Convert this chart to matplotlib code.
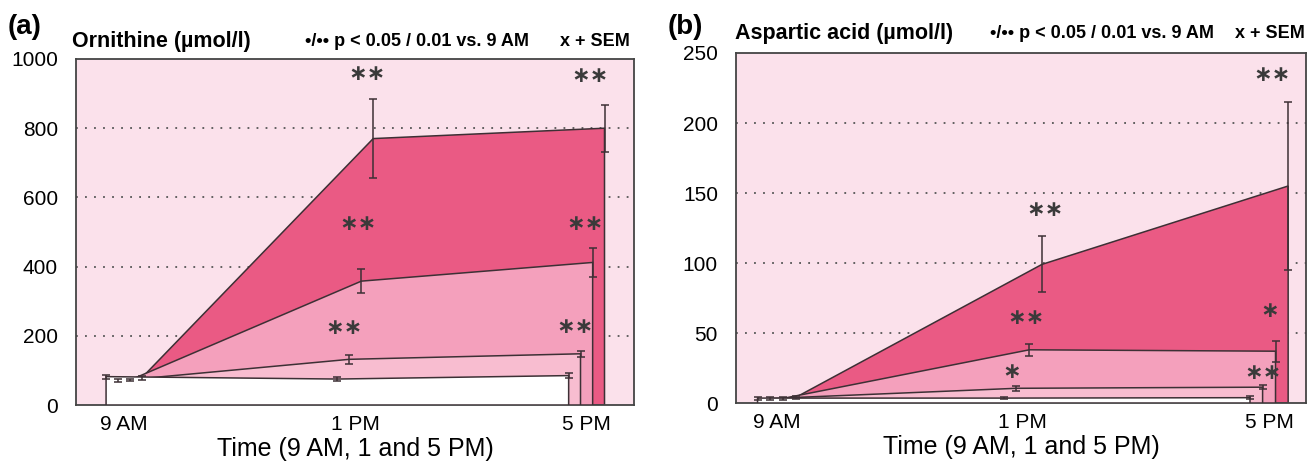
import numpy as np
import matplotlib.pyplot as plt

plt.rcParams['font.family'] = ['Liberation Sans', 'DejaVu Sans']

# time points (hours after 9 AM) and labels
hours = np.array([0, 4, 8])
time_labels = ['9 AM', '1 PM', '5 PM']
# small horizontal shift of each of the four groups
group_shift = [-0.31, -0.105, 0.105, 0.31]

# (a) Ornithine, umol/l, groups 1..4 (mean, SEM)
orn_g1 = [82, 75, 85]
orn_g2 = [70, 132, 148]
orn_g3 = [72, 358, 412]
orn_g4 = [79, 770, 800]
orn_g1_sem = [6, 5, 7]
orn_g2_sem = [4, 13, 9]
orn_g3_sem = [4, 35, 43]
orn_g4_sem = [6, 115, 68]
orn_star_x = [4.21, 4.04, 3.80, 8.06, 7.97, 7.80]
orn_star_y = [957, 522, 223, 951, 524, 226]
orn_star_txt = ['**', '**', '**', '**', '**', '**']

# (b) Aspartic acid, umol/l
asp_g1 = [3.5, 3.5, 3.8]
asp_g2 = [3.2, 10.5, 11.3]
asp_g3 = [3.3, 38, 37]
asp_g4 = [4, 99, 155]
asp_g1_sem = [1, 0.8, 1]
asp_g2_sem = [1, 2, 1.5]
asp_g3_sem = [1, 4.5, 7.5]
asp_g4_sem = [1, 20, 60]
asp_star_x = [4.36, 4.05, 3.82, 8.04, 8.01, 7.90]
asp_star_y = [138, 61, 22, 234, 66, 21.6]
asp_star_txt = ['**', '**', '*', '**', '*', '**']

fills = ['white', '#f8bdd0', '#f4a0bc', '#ea5a84']
edge = '#3d3035'
bg = '#fbe1eb'


def draw_panel(ax, means, sems, ymax, ystep, xlim, star_x, star_y, star_txt):
    ax.set_facecolor(bg)
    for y in np.arange(ystep, ymax, ystep):
        ax.axhline(y, color='#555555', linestyle=(0, (1, 4)), lw=1.3, zorder=1)
    # back to front: group 4 first, white group 1 last
    for i in [3, 2, 1, 0]:
        xs = hours + group_shift[i]
        v = means[i]
        ax.fill([xs[0], xs[0], xs[1], xs[2], xs[2]], [0, v[0], v[1], v[2], 0],
                facecolor=fills[i], edgecolor=edge, lw=1.1, zorder=2 + (3 - i))
    for i in range(4):
        xs = hours + group_shift[i]
        ax.errorbar(xs, means[i], yerr=sems[i], fmt='none', ecolor=edge,
                    elinewidth=1.1, capsize=3, capthick=1.1, zorder=10)
    for x, y, t in zip(star_x, star_y, star_txt):
        ax.text(x, y, t.replace('*', '\u2217'), ha='center', va='center',
                fontsize=16, family='DejaVu Sans', fontweight='bold',
                color='#3a3a3a', zorder=11)
    ax.set_xlim(*xlim)
    ax.set_ylim(0, ymax)
    ax.set_yticks(np.arange(0, ymax + 1, ystep))
    ax.set_xticks(hours)
    ax.set_xticklabels(time_labels)
    ax.tick_params(length=0, labelsize=15)
    ax.tick_params(axis='y', pad=13)
    ax.tick_params(axis='x', pad=7)
    for s in ax.spines.values():
        s.set_color('#444444')
        s.set_linewidth(1.3)
    ax.set_xlabel('Time (9 AM, 1 and 5 PM)', fontsize=18, va='center')
    ax.xaxis.set_label_coords(0.5, -0.126)


fig = plt.figure(figsize=(13.08, 4.61), dpi=100)
W, H = 1308, 461

ax1 = fig.add_axes([76 / W, 1 - 405 / H, 558 / W, 346 / H])
draw_panel(ax1,
           [orn_g1, orn_g2, orn_g3, orn_g4],
           [orn_g1_sem, orn_g2_sem, orn_g3_sem, orn_g4_sem],
           1000, 200, (-0.83, 8.82), orn_star_x, orn_star_y, orn_star_txt)

ax2 = fig.add_axes([736 / W, 1 - 403 / H, 570 / W, 350 / H])
draw_panel(ax2,
           [asp_g1, asp_g2, asp_g3, asp_g4],
           [asp_g1_sem, asp_g2_sem, asp_g3_sem, asp_g4_sem],
           250, 50, (-0.66, 8.6), asp_star_x, asp_star_y, asp_star_txt)


def ftxt(x, y, s, **kw):
    fig.text(x / W, 1 - y / H, s, va='center', ha='left', **kw)


ftxt(8, 27, '(a)', fontsize=20, fontweight='bold')
ftxt(72, 41, 'Ornithine (µmol/l)', fontsize=15.5, fontweight='bold')
ftxt(305, 41, '•/•• p < 0.05 / 0.01 vs. 9 AM', fontsize=13, fontweight='bold')
ftxt(560, 41, 'x + SEM', fontsize=13, fontweight='bold')

ftxt(668, 27, '(b)', fontsize=20, fontweight='bold')
ftxt(735, 33, 'Aspartic acid (µmol/l)', fontsize=15.5, fontweight='bold')
ftxt(990, 33, '•/•• p < 0.05 / 0.01 vs. 9 AM', fontsize=13, fontweight='bold')
ftxt(1235, 33, 'x + SEM', fontsize=13, fontweight='bold')

fig.savefig('out.png', dpi=100)
